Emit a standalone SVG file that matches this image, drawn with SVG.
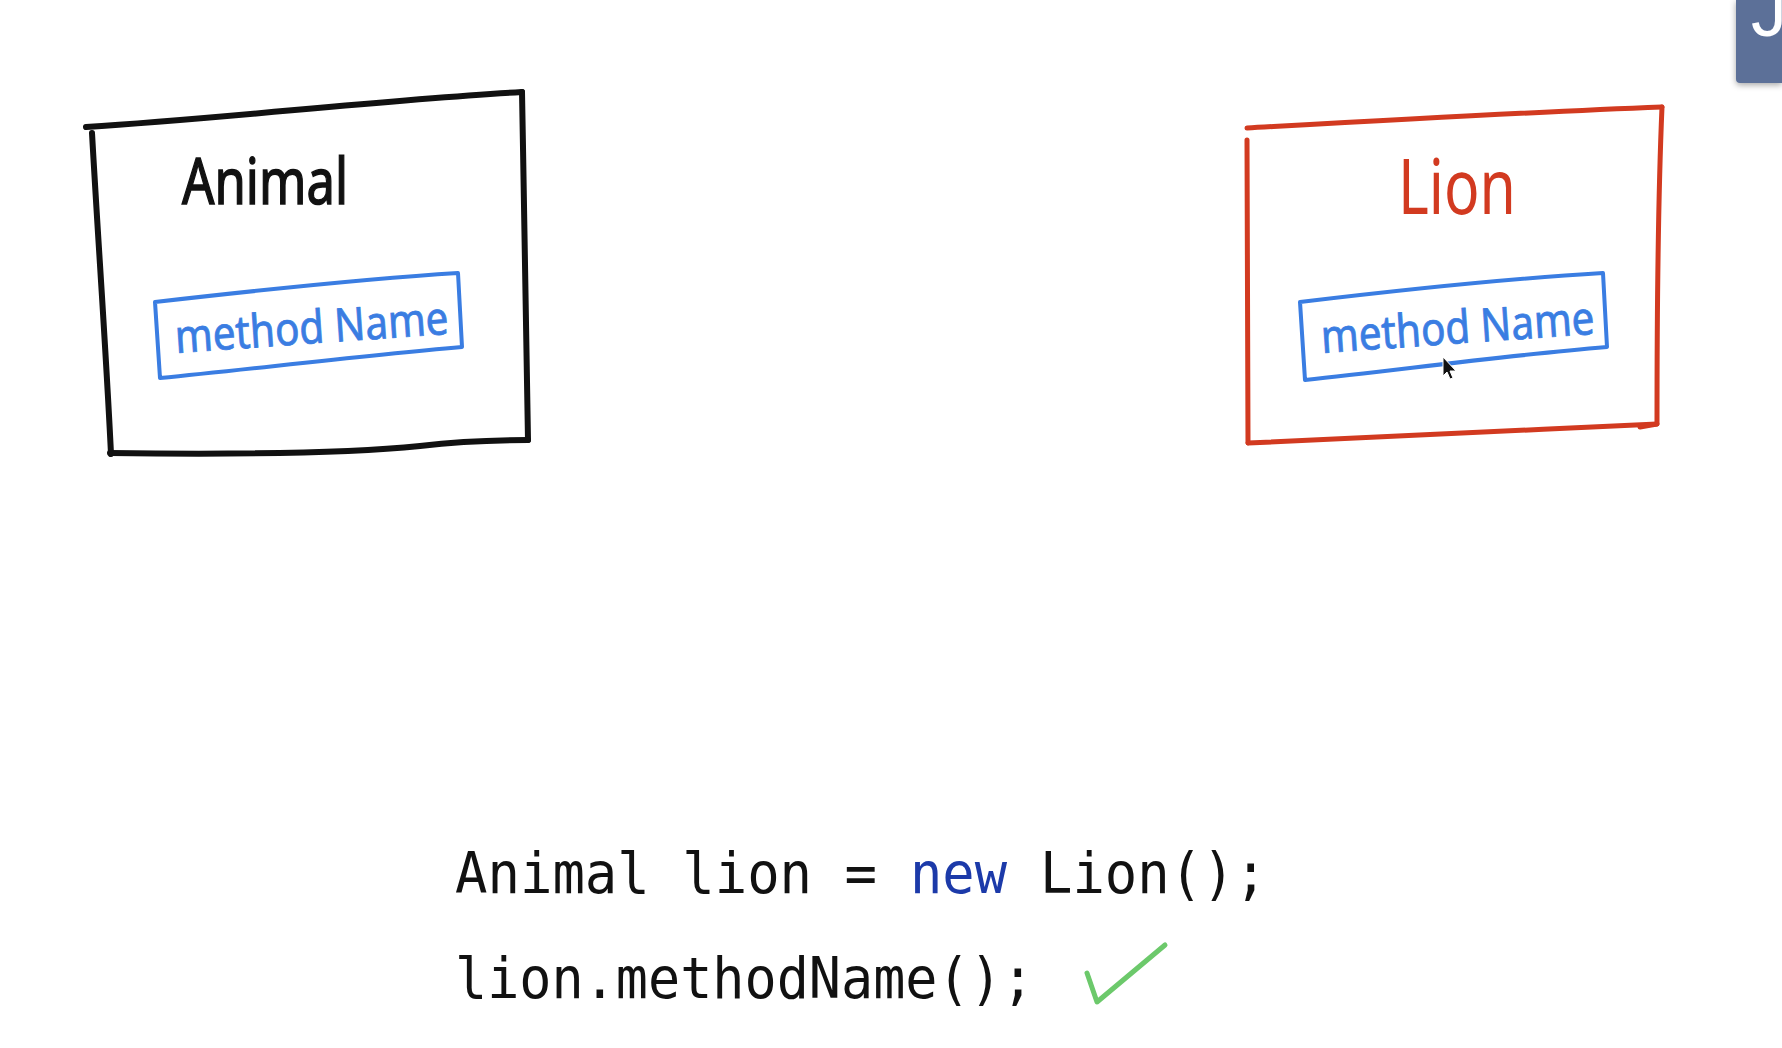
<svg xmlns="http://www.w3.org/2000/svg" width="1782" height="1048" viewBox="0 0 1782 1048">
  <defs>
    <style>
      .sk { fill: none; stroke-linecap: round; stroke-linejoin: round; }
      .blk { stroke: #111111; stroke-width: 6; }
      .red { stroke: #d23a20; stroke-width: 5; }
      .blu { stroke: #3a7de2; stroke-width: 4; }
      .hand { font-family: "Noto Sans", "Liberation Sans", sans-serif; }
      .code { font-family: "DejaVu Sans Mono", "Liberation Mono", monospace; font-size: 57px; fill: #111111; }
    </style>
    <filter id="sh" x="-50%" y="-50%" width="200%" height="200%">
      <feDropShadow dx="0" dy="2" stdDeviation="3" flood-color="#000" flood-opacity="0.35"/>
    </filter>
  </defs>
  <rect width="1782" height="1048" fill="#ffffff"/>

  <g id="tab">
    <path d="M1736,0 H1782 V83 H1740 Q1736,83 1736,79 Z" fill="#5b7098" filter="url(#sh)"/>
    <text x="1751" y="36" font-family="Liberation Sans, sans-serif" font-size="72" fill="#ffffff">J</text>
  </g>

  <g id="animal">
    <path class="sk blk" d="M86,127 C230,118 380,100 522,92"/>
    <path class="sk blk" d="M92,133 C98,240 106,350 111,454"/>
    <path class="sk blk" d="M522,92 C524,210 527,330 528,440"/>
    <path class="sk blk" d="M110,453 C260,455 360,452 420,446 C470,440 505,440 528,440"/>
    <text class="hand" x="182" y="204" font-size="64" textLength="166" lengthAdjust="spacingAndGlyphs" fill="#111111" stroke="#111111" stroke-width="1.5">Animal</text>
    <g id="animal-method">
      <path class="sk blu" d="M155,302 C260,290 360,279 458,273 L462,347 C360,356 260,368 160,378 Z"/>
      <text class="hand" x="176" y="353" font-size="46" textLength="274" lengthAdjust="spacingAndGlyphs" fill="#3a7de2" stroke="#3a7de2" stroke-width="0.8" transform="rotate(-4 176 353)">method Name</text>
    </g>
  </g>

  <g id="lion">
    <path class="sk red" d="M1247,128 C1390,120 1530,112 1662,107"/>
    <path class="sk red" d="M1247,140 C1247,240 1248,340 1248,443"/>
    <path class="sk red" d="M1662,107 C1658,200 1657,320 1657,424 L1640,427"/>
    <path class="sk red" d="M1248,443 C1380,438 1520,430 1657,424"/>
    <text class="hand" x="1398" y="214" font-size="76" textLength="118" lengthAdjust="spacingAndGlyphs" fill="#d23a20">Lion</text>
    <g id="lion-method">
      <path class="sk blu" d="M1300,302 C1400,290 1500,279 1603,273 L1607,347 C1500,356 1400,370 1305,380 Z"/>
      <text class="hand" x="1322" y="353" font-size="46" textLength="274" lengthAdjust="spacingAndGlyphs" fill="#3a7de2" stroke="#3a7de2" stroke-width="0.8" transform="rotate(-4 1322 353)">method Name</text>
    </g>
    <path id="cursor" d="M1443,357 L1443,376 L1447,372 L1450,379 L1453,378 L1450,371 L1456,371 Z" fill="#111111" stroke="#ffffff" stroke-width="1"/>
  </g>

  <g id="code">
    <text class="code" x="455" y="893" textLength="422" lengthAdjust="spacingAndGlyphs">Animal lion =</text>
    <text class="code" x="910" y="893" textLength="97" lengthAdjust="spacingAndGlyphs" fill="#1c3aa9" style="fill:#1c3aa9">new</text>
    <text class="code" x="1040" y="893" textLength="227" lengthAdjust="spacingAndGlyphs">Lion();</text>
    <text class="code" x="455" y="998" textLength="579" lengthAdjust="spacingAndGlyphs">lion.methodName();</text>
    <path id="check" class="sk" d="M1087,973 L1097,1002 L1165,945" stroke="#6cc96b" stroke-width="5"/>
  </g>
</svg>
